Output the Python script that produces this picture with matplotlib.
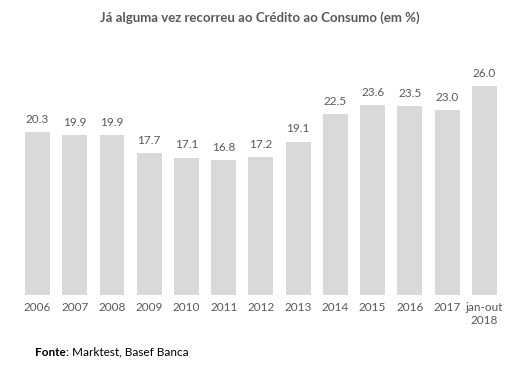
import matplotlib
matplotlib.use("Agg")
import matplotlib.pyplot as plt

# data
categories = ["2006", "2007", "2008", "2009", "2010", "2011", "2012",
              "2013", "2014", "2015", "2016", "2017", "jan-out\n2018"]
values = [20.3, 19.9, 19.9, 17.7, 17.1, 16.8, 17.2,
          19.1, 22.5, 23.6, 23.5, 23.0, 26.0]

TEXT = "#595959"
BAR = "#d9d9d9"
plt.rcParams["font.family"] = ["Lato", "DejaVu Sans"]

fig = plt.figure(figsize=(5.2, 3.88), dpi=100)
ax = fig.add_axes([18.9 / 520, 1 - 295 / 388, (503 - 18.9) / 520, (295 - 54) / 388])

x = range(len(values))
bars = ax.bar(x, values, width=0.67, color=BAR)
for xi, v in zip(x, values):
    ax.text(xi, v + 0.9, f"{v:.1f}", ha="center", va="bottom",
            fontsize=8.5, color=TEXT)

ax.set_xlim(-0.5, len(values) - 0.5)
ax.set_ylim(0, 30)
ax.set_xticks(list(x))
ax.set_xticklabels(categories, fontsize=8.5, color=TEXT, linespacing=1.2)
ax.tick_params(axis="x", length=0, pad=5)
ax.set_yticks([])
for s in ax.spines.values():
    s.set_visible(False)

fig.text(0.5, 1 - 18 / 388, "Já alguma vez recorreu ao Crédito ao Consumo (em %)",
         ha="center", va="center", fontsize=9.5, fontweight="bold", color=TEXT)

t1 = fig.text(35 / 520, 1 - 352 / 388, "Fonte", ha="left", va="center",
              fontsize=8.5, fontweight="bold", color="black")
fig.canvas.draw()
bb = t1.get_window_extent()
fig.text(bb.x1 / fig.bbox.width, 1 - 352 / 388, ": Marktest, Basef Banca",
         ha="left", va="center", fontsize=8.5, color="black")

fig.savefig("out.png", dpi=100, facecolor="white")
